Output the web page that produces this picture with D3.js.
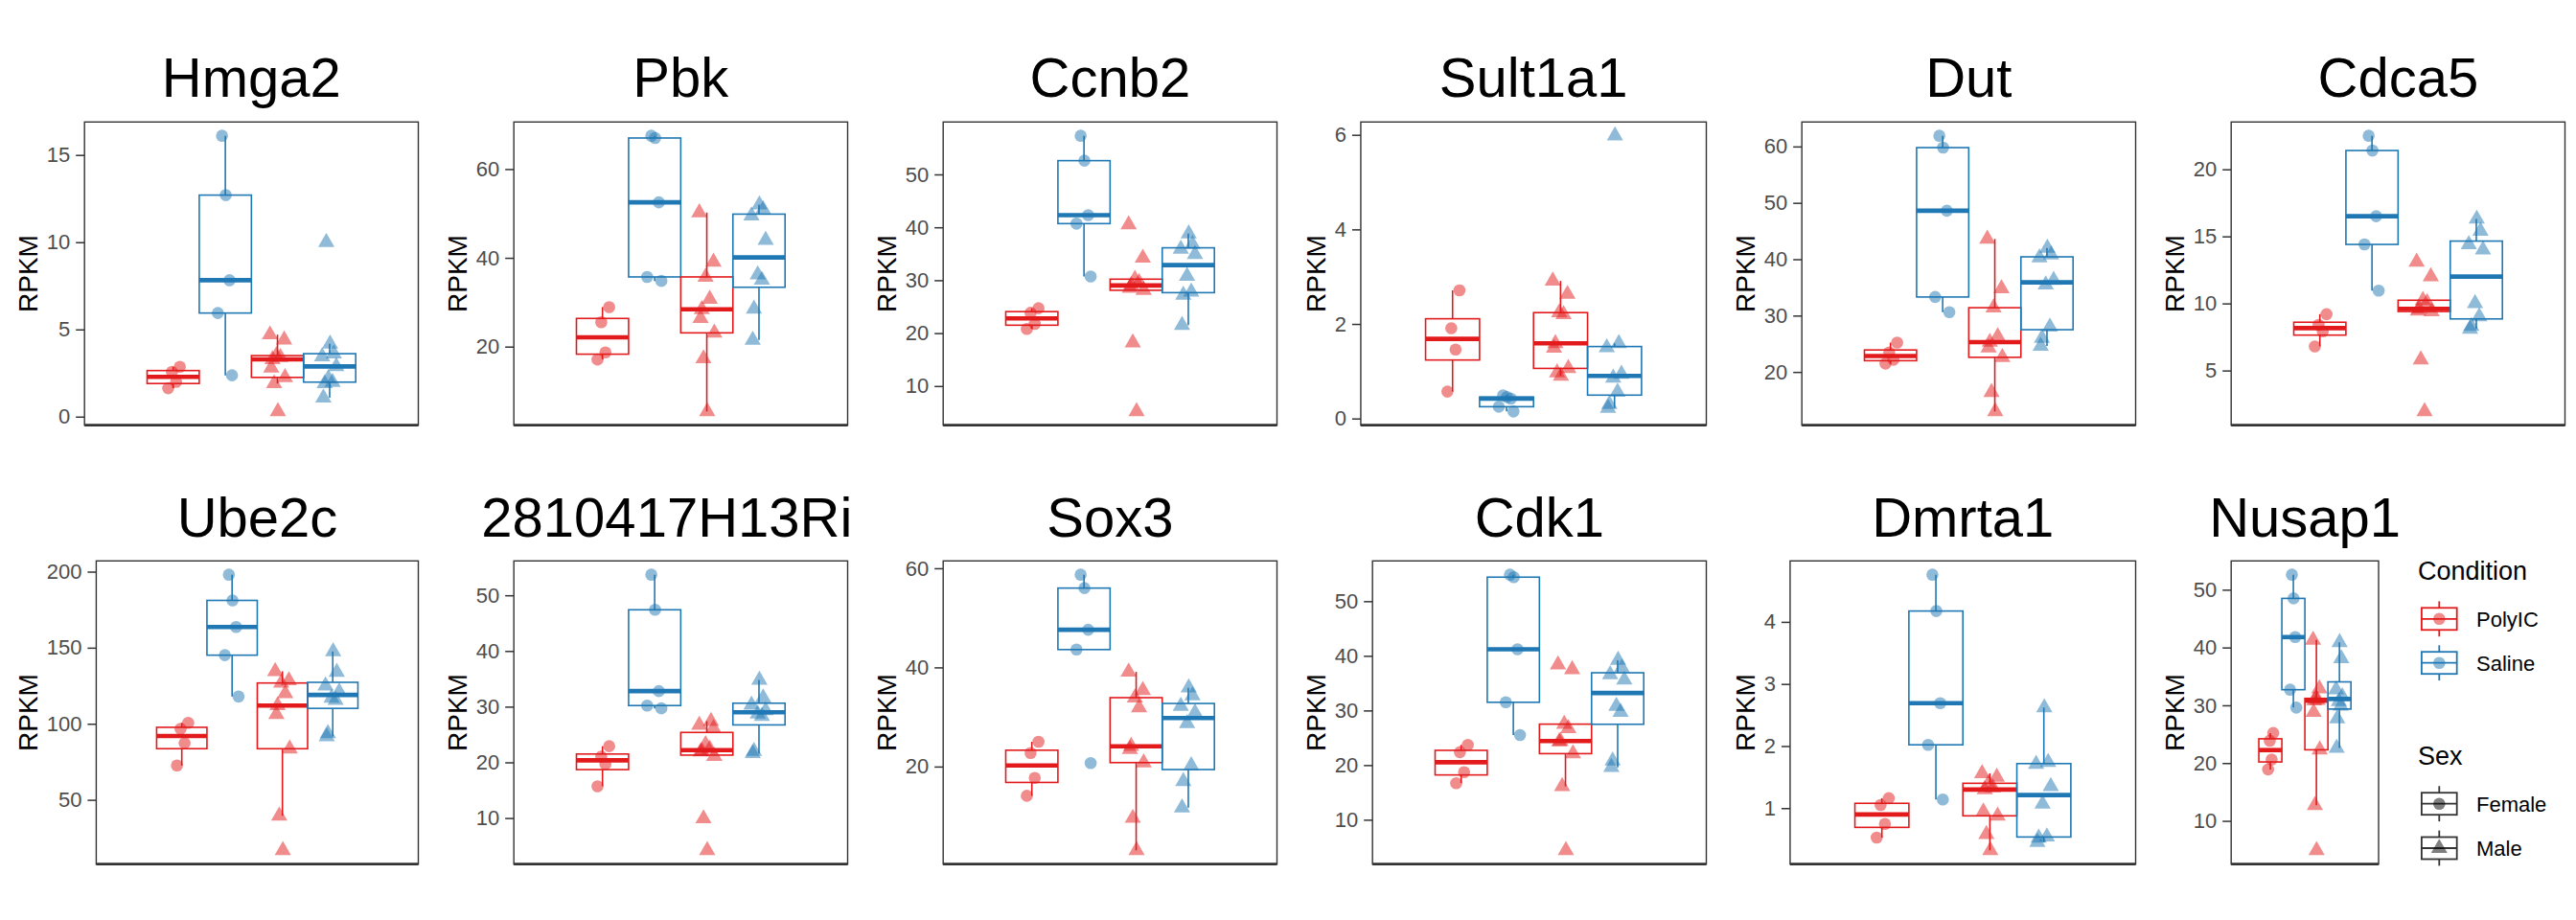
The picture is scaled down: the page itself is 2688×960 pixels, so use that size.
<!DOCTYPE html>
<html lang="en">
<head>
<meta charset="UTF-8">
<title>RPKM boxplots</title>
<style>
  body { margin: 0; background: #fff; }
  svg text { font-family: 'Liberation Sans', Arial, sans-serif; }
</style>
<script src="https://d3js.org/d3.v7.min.js"></script>
</head>
<body>
<svg width="2688" height="960"></svg>
<script>
// gene panels, in reading order
const genes = ["Hmga2", "Pbk", "Ccnb2", "Sult1a1", "Dut", "Cdca5",
               "Ube2c", "2810417H13Rik", "Sox3", "Cdk1", "Dmrta1", "Nusap1"];
const groups = ["PolyIC.Female", "Saline.Female", "PolyIC.Male", "Saline.Male"];
const conditions = ["PolyIC", "Saline"];
const sexes = ["Female", "Male"];

// RPKM values, one list per gene
const polyicFemale = [
  [1.63, 1.99, 2.57, 2.86],
  [17.1, 18.7, 25.5, 28.9],
  [20.8, 21.73, 23.85, 24.7],
  [0.57, 1.46, 1.91, 2.71],
  [21.5, 22.17, 23.47, 25.2],
  [6.8, 7.92, 8.4, 9.2],
  [72.6, 87.3, 96.7, 100.6],
  [15.7, 19.7, 21.03, 22.9],
  [14.1, 17.7, 22.73, 25.0],
  [16.7, 18.7, 22.37, 23.7],
  [0.525, 0.745, 1.05, 1.16],
  [18.9, 20.63, 23.87, 25.2]
];
const salineFemale = [
  [2.37, 5.94, 7.82, 12.7, 16.1],
  [34.8, 35.7, 52.5, 67.0, 67.5],
  [30.7, 40.7, 42.3, 52.6, 57.3],
  [0.15, 0.25, 0.42, 0.455, 0.49],
  [30.6, 33.3, 48.6, 59.8, 61.9],
  [10.96, 14.4, 16.5, 21.4, 22.5],
  [117.9, 145.1, 163.6, 181.1, 198],
  [29.7, 30.2, 32.8, 47.4, 53.7],
  [20.7, 43.6, 47.6, 56.0, 58.7],
  [25.5, 31.5, 41.2, 54.4, 54.85],
  [1.14, 2.02, 2.69, 4.175, 4.76],
  [29.6, 32.7, 41.8, 48.5, 52.6]
];
const polyicMale = [
  [0.3, 1.9, 2.25, 2.8, 3.28, 3.4, 3.5, 4.4, 4.7],
  [5.4, 17.3, 23.1, 26.4, 28.4, 30.7, 35.7, 39.1, 50.2],
  [5.2, 18.2, 28.1, 28.5, 29.0, 29.6, 30.2, 34.2, 40.5],
  [0.9, 0.97, 1.06, 1.49, 1.59, 2.2, 2.24, 2.63, 2.91],
  [13.0, 16.4, 22.6, 24.3, 25.3, 26.3, 31.4, 34.8, 43.6],
  [1.95, 5.8, 9.4, 9.45, 9.6, 10.07, 10.24, 12.0, 13.1],
  [16.8, 39.5, 83.6, 106.3, 112.0, 120, 126.8, 128.5, 134.5],
  [4.2, 9.9, 21.1, 21.9, 22.0, 22.4, 23.2, 26.1, 26.7, 27.4],
  [3.1, 9.6, 20.8, 23.5, 24.1, 31.9, 33.9, 35.4, 39.1],
  [4.4, 16.1, 22.1, 24.3, 24.4, 26.7, 27.5, 37.5, 38.4],
  [0.32, 0.58, 0.876, 0.94, 1.30, 1.33, 1.40, 1.50, 1.56],
  [4.9, 12.7, 22.3, 28.8, 30.8, 30.9, 31.2, 32.9, 41.3]
];
const salineMale = [
  [1.08, 1.9, 1.98, 2.2, 2.88, 3.45, 3.61, 4.17, 10.0],
  [21.5, 28.5, 35.0, 36.2, 44.0, 49.5, 50.9, 52.0],
  [21.5, 27.2, 27.8, 30.8, 34.9, 35.9, 36.8, 38.8],
  [0.22, 0.30, 0.56, 0.86, 0.94, 1.50, 1.59, 5.98],
  [24.6, 26.0, 28.0, 35.5, 36.3, 40.3, 40.8, 42.0],
  [8.1, 8.3, 9.03, 10.0, 14.0, 14.4, 15.4, 16.3],
  [91.6, 93.7, 115.6, 117, 121, 125, 134, 147.5],
  [21.6, 22.0, 28.3, 28.7, 29.3, 30.3, 31.6, 34.8],
  [11.7, 17.0, 20.2, 28.7, 30.9, 32.2, 34.3, 35.9],
  [19.6, 20.8, 29.7, 30.8, 35.6, 36.6, 37.8, 39.2],
  [0.45, 0.52, 0.54, 1.07, 1.35, 1.71, 1.74, 2.62],
  [22.6, 27.7, 29.9, 30.7, 31.5, 32.7, 38.1, 40.9]
];

// y tick labels per gene
const yTicks = [
  [0, 5, 10, 15], [20, 40, 60], [10, 20, 30, 40, 50], [0, 2, 4, 6],
  [20, 30, 40, 50, 60], [5, 10, 15, 20],
  [50, 100, 150, 200], [10, 20, 30, 40, 50], [20, 40, 60],
  [10, 20, 30, 40, 50], [1, 2, 3, 4], [10, 20, 30, 40, 50]
];

const color = d3.scaleOrdinal().domain(conditions).range(["#E31A1C", "#1F78B4"]);
const shape = d3.scaleOrdinal().domain(sexes).range([d3.symbolCircle, d3.symbolTriangle]);

const svg = d3.select("svg");
const FONT = "'Liberation Sans', Arial, sans-serif";

const colW = 448, rowH = 480;
const panelTop = [127.3, 585.3], panelBottom = [443.7, 901.7];
const titleBase = [100.7, 560];
const legendRight = 2482;

// text width helper
const meas = svg.append("text").style("font-size", "22px").attr("opacity", 0);
function textW(s) { meas.text(s); return meas.node().getComputedTextLength(); }

// small fixed pattern to spread points sideways (jitter)
const jit = [-0.6, 0.35, -0.15, 0.8, -0.9, 0.5, 0.05, -0.4, 0.9, -0.75];

const defs = svg.append("defs");

genes.forEach((gene, gi) => {
  const row = Math.floor(gi / 6), col = gi % 6;
  const cx0 = col * colW, cy0 = row * rowH;

  // each small plot is cut off at its own cell, like the long title
  defs.append("clipPath").attr("id", "clip" + gi)
    .append("rect").attr("x", cx0).attr("y", cy0).attr("width", colW - 3).attr("height", rowH);
  const g = svg.append("g").attr("clip-path", `url(#clip${gi})`);

  const ticks = yTicks[gi];
  const labW = d3.max(ticks, t => textW(String(t)));
  const left = cx0 + 63.7 + labW;
  const right = gi === 11 ? legendRight : cx0 + colW - 11.5;
  const top = panelTop[row], bottom = panelBottom[row];

  const sets = [polyicFemale[gi], salineFemale[gi], polyicMale[gi], salineMale[gi]];
  const all = sets.flat();
  const [lo, hi] = d3.extent(all);
  const pad = (hi - lo) * 0.05;

  const y = d3.scaleLinear().domain([lo - pad, hi + pad]).range([bottom, top]);
  const xOuter = d3.scaleBand().domain(["all"]).range([left, right]).paddingOuter(0.3).paddingInner(0);
  const x = d3.scaleBand().domain(groups)
    .range([xOuter("all"), xOuter("all") + xOuter.bandwidth()]);
  const bw = x.bandwidth();

  // title
  g.append("text")
    .attr("x", (left + right) / 2).attr("y", titleBase[row])
    .attr("text-anchor", "middle")
    .style("font-size", "58px").style("fill", "#000")
    .text(gene);

  // y axis title
  g.append("text")
    .attr("transform", `translate(${cx0 + 29}, ${(top + bottom) / 2}) rotate(-90)`)
    .attr("y", 10)
    .attr("text-anchor", "middle")
    .style("font-size", "28px").style("fill", "#000")
    .text("RPKM");

  // y axis
  const ax = g.append("g").attr("transform", `translate(${left},0)`)
    .call(d3.axisLeft(y).tickValues(ticks).tickSize(9).tickPadding(6).tickFormat(d3.format("d")));
  ax.select(".domain").remove();
  ax.selectAll(".tick line").attr("stroke", "#333").attr("stroke-width", 1.5);
  ax.selectAll(".tick text").style("font-size", "22px").style("fill", "#4D4D4D")
    .style("font-family", FONT);

  // boxplots
  groups.forEach((grp, k) => {
    const vals = sets[k].slice().sort(d3.ascending);
    const cond = grp.split(".")[0], sex = grp.split(".")[1];
    const q1 = d3.quantile(vals, 0.25), med = d3.quantile(vals, 0.5), q3 = d3.quantile(vals, 0.75);
    const iqr = q3 - q1;
    const wLo = d3.min(vals.filter(v => v >= q1 - 1.5 * iqr));
    const wHi = d3.max(vals.filter(v => v <= q3 + 1.5 * iqr));
    const bx = x(grp), mid = bx + bw / 2;
    const c = color(cond);
    const bg = g.append("g");

    bg.append("line").attr("x1", mid).attr("x2", mid).attr("y1", y(q3)).attr("y2", y(wHi))
      .attr("stroke", c).attr("stroke-width", 1.6);
    bg.append("line").attr("x1", mid).attr("x2", mid).attr("y1", y(q1)).attr("y2", y(wLo))
      .attr("stroke", c).attr("stroke-width", 1.6);
    bg.append("rect").attr("x", bx).attr("y", y(q3)).attr("width", bw).attr("height", y(q1) - y(q3))
      .attr("fill", "none").attr("stroke", c).attr("stroke-width", 1.6);
    bg.append("line").attr("x1", bx).attr("x2", bx + bw).attr("y1", y(med)).attr("y2", y(med))
      .attr("stroke", c).attr("stroke-width", 4.6);

    // points
    g.append("g").selectAll("path").data(sets[k]).join("path")
      .attr("d", d3.symbol().type(shape(sex)).size(125))
      .attr("transform", (d, i) => `translate(${mid + jit[(i + k * 3) % jit.length] * 0.16 * bw},${y(d)})`)
      .attr("fill", c).attr("fill-opacity", 0.5);
  });

  // panel border and x axis line
  g.append("rect").attr("x", left).attr("y", top).attr("width", right - left).attr("height", bottom - top)
    .attr("fill", "none").attr("stroke", "#333").attr("stroke-width", 1.4);
  g.append("line").attr("x1", left).attr("x2", right).attr("y1", bottom).attr("y2", bottom)
    .attr("stroke", "#333").attr("stroke-width", 2.8);
});

meas.remove();

// legends
function legendKey(gk, cx, cy, stroke, fill, fillOp, sym) {
  gk.append("line").attr("x1", cx).attr("x2", cx).attr("y1", cy - 18.4).attr("y2", cy + 18.4)
    .attr("stroke", stroke).attr("stroke-width", 1.8);
  gk.append("rect").attr("x", cx - 18.4).attr("y", cy - 11.5).attr("width", 36.8).attr("height", 23)
    .attr("fill", "#fff").attr("stroke", stroke).attr("stroke-width", 1.8);
  gk.append("line").attr("x1", cx - 18.4).attr("x2", cx + 18.4).attr("y1", cy).attr("y2", cy)
    .attr("stroke", stroke).attr("stroke-width", 1.8);
  gk.append("path").attr("d", d3.symbol().type(sym).size(125))
    .attr("transform", `translate(${cx},${cy})`)
    .attr("fill", fill).attr("fill-opacity", fillOp);
}

const lg = svg.append("g");
const legX = 2523, keyCx = 2545.3, labX = 2584;

lg.append("text").attr("x", legX).attr("y", 605).style("font-size", "27px").text("Condition");
[645.8, 691.7].forEach((cy, i) => {
  legendKey(lg, keyCx, cy, color(conditions[i]), color(conditions[i]), 0.5, d3.symbolCircle);
  lg.append("text").attr("x", labX).attr("y", cy + 8).style("font-size", "22px").text(conditions[i]);
});

lg.append("text").attr("x", legX).attr("y", 798).style("font-size", "27px").text("Sex");
[838.7, 885].forEach((cy, i) => {
  legendKey(lg, keyCx, cy, "#333", "#000", 0.5, shape(sexes[i]));
  lg.append("text").attr("x", labX).attr("y", cy + 8).style("font-size", "22px").text(sexes[i]);
});
</script>
</body>
</html>
